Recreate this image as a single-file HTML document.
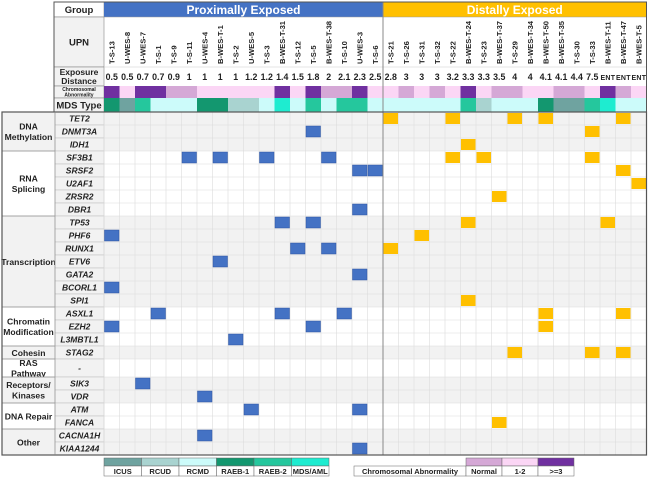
<!DOCTYPE html>
<html><head><meta charset="utf-8"><style>
html,body{margin:0;padding:0;background:#fff;width:650px;height:477px;overflow:hidden}
svg{display:block;font-family:"Liberation Sans",Arial,sans-serif}
</style></head><body>
<svg id="c" width="650" height="477" viewBox="0 0 650 477"></svg>
<script>
const upns=["T-S-13","U-WES-8","U-WES-7","T-S-1","T-S-9","T-S-11","U-WES-4","B-WES-T-1","T-S-2","U-WES-5","T-S-3","B-WES-T-31","T-S-12","T-S-5","B-WES-T-38","T-S-10","U-WES-3","T-S-6","T-S-21","T-S-26","T-S-31","T-S-32","T-S-22","B-WES-T-24","T-S-23","B-WES-T-37","T-S-29","B-WES-T-34","B-WES-T-50","B-WES-T-35","T-S-30","T-S-33","B-WES-T-11","B-WES-T-47","B-WES-T-5"];
const exposure=["0.5","0.5","0.7","0.7","0.9","1","1","1","1","1.2","1.2","1.4","1.5","1.8","2","2.1","2.3","2.5","2.8","3","3","3","3.2","3.3","3.3","3.5","4","4","4.1","4.1","4.4","7.5","ENT","ENT","ENT"];
const chrom=[2,1,2,2,0,0,1,1,1,1,1,2,1,2,0,0,2,1,1,0,1,0,1,2,1,0,0,1,1,0,0,1,2,0,1];
const mds=[3,0,4,2,2,2,3,3,1,1,2,5,2,4,2,4,4,2,2,2,2,2,2,4,1,2,2,2,3,0,0,4,5,2,2];
const proximalCount=18;
const genes=["TET2","DNMT3A","IDH1","SF3B1","SRSF2","U2AF1","ZRSR2","DBR1","TP53","PHF6","RUNX1","ETV6","GATA2","BCORL1","SPI1","ASXL1","EZH2","L3MBTL1","STAG2","-","SIK3","VDR","ATM","FANCA","CACNA1H","KIAA1244"];
const groupNames=[["DNA","Methylation"],["RNA","Splicing"],["Transcription"],["Chromatin","Modification"],["Cohesin"],["RAS","Pathway"],["Receptors/","Kinases"],["DNA Repair"],["Other"]];
const groupSizes=[3,5,7,3,1,1,2,2,2];
const mutations=[[0,18],[0,22],[0,26],[0,28],[0,33],[1,13],[1,31],[2,23],[3,5],[3,7],[3,10],[3,14],[3,22],[3,24],[3,31],[4,16],[4,17],[4,33],[5,34],[6,25],[7,16],[8,11],[8,13],[8,23],[8,32],[9,0],[9,20],[10,12],[10,14],[10,18],[11,7],[12,16],[13,0],[14,23],[15,3],[15,11],[15,15],[15,28],[15,33],[16,0],[16,13],[16,28],[17,8],[18,26],[18,31],[18,33],[20,2],[21,6],[22,9],[22,16],[23,25],[24,6],[25,16]];
const mdsLabels=["ICUS","RCUD","RCMD","RAEB-1","RAEB-2","MDS/AML"];
const chromLabels=["Normal","1-2",">=3"];

const mdsColors=["#6fa3a0","#a9d3d0","#ccfbfa","#13976f","#25c79d","#1eecd0"];
const chromColors=["#d5a8d6","#fbd6f5","#7030a0"];
const S=document.getElementById('c'),NS="http://www.w3.org/2000/svg";
function el(t,a,txt){const e=document.createElementNS(NS,t);for(const k in a)e.setAttribute(k,a[k]);if(txt!==undefined)e.textContent=txt;S.appendChild(e);return e;}
const X0=104,CW=15.5,Y0=112,RH=13,RAS=18;
const colX=i=>X0+i*CW;
const rowY=[];let yy=Y0;for(let i=0;i<genes.length;i++){rowY.push(yy);yy+=genes[i]==="-"?RAS:RH;}rowY.push(yy);
const xEnd=colX(upns.length),yEnd=yy;
let gi=0;
for(let g=0;g<groupSizes.length;g++){
  const y1=rowY[gi],y2=rowY[gi+groupSizes[g]];const fill=g%2===0?"#f2f2f2":"#ffffff";
  let r=el('rect',{x:2,y:y1,width:xEnd-2,height:y2-y1,fill:fill});
  
  el('line',{x1:2,x2:104,y1:y1,y2:y1,stroke:"#888","stroke-width":0.8});
  const nm=groupNames[g],cy=(y1+y2)/2;
  nm.forEach((s,k)=>{let t=el('text',{x:28.5,y:cy+3.3+(k-(nm.length-1)/2)*10.5,"text-anchor":"middle","font-size":8.6,"font-weight":"bold",fill:"#222"},s);
    });
  gi+=groupSizes[g];
}
genes.forEach((g,i)=>{
  el('rect',{x:55,y:rowY[i],width:49,height:rowY[i+1]-rowY[i],fill:"#f2f2f2",stroke:"#bbb","stroke-width":0.5});
  let t=el('text',{x:79.5,y:(rowY[i]+rowY[i+1])/2+3.1,"text-anchor":"middle","font-size":8.5,"font-weight":"bold","font-style":"italic",fill:"#222"},g);
  
});
for(let i=0;i<=upns.length;i++)el('line',{x1:colX(i),x2:colX(i),y1:Y0,y2:yEnd,stroke:"#dcdcdc","stroke-width":0.6});
for(let i=0;i<=genes.length;i++)el('line',{x1:X0,x2:xEnd,y1:rowY[i],y2:rowY[i],stroke:"#dcdcdc","stroke-width":0.6});
const hdr=[["Group",2,17],["UPN",17,67],["Exposure|Distance",67,86],["Chromosomal|Abnormality",86,98],["MDS Type",98,112]];
hdr.forEach((h,k)=>{
  el('rect',{x:54,y:h[1],width:50,height:h[2]-h[1],fill:k===0?"#fff":"#f2f2f2",stroke:"#888","stroke-width":0.6});
  const p=h[0].split('|');const fs=k===3?5:(k===2?8.5:9.5);
  p.forEach((s,j)=>{let t=el('text',{x:79,y:(h[1]+h[2])/2+fs*0.36+(j-(p.length-1)/2)*(fs+0.5),"text-anchor":"middle","font-size":fs,"font-weight":"bold",fill:"#222"},s);
    });
});
let pb=el('rect',{x:X0,y:2,width:proximalCount*CW,height:15,fill:"#4472c4"});

let db=el('rect',{x:colX(proximalCount),y:2,width:(upns.length-proximalCount)*CW,height:15,fill:"#ffc000"});

el('text',{x:X0+proximalCount*CW/2,y:14,"text-anchor":"middle","font-size":12,"font-weight":"bold",fill:"#fff"},"Proximally Exposed");
el('text',{x:colX(proximalCount)+(upns.length-proximalCount)*CW/2,y:14,"text-anchor":"middle","font-size":12,"font-weight":"bold",fill:"#fff"},"Distally Exposed");
upns.forEach((u,i)=>{
  const cx=colX(i)+CW/2;
  let t=el('text',{x:0,y:0,transform:`translate(${cx+2.8},64) rotate(-90)`,"font-size":7.6,"font-weight":"bold",fill:"#222"},u);
  
  const ent=exposure[i]==="ENT";
  let e=el('text',{x:cx,y:80,"text-anchor":"middle","font-size":ent?7:8.8,"font-weight":"bold",fill:"#222"},exposure[i]);
  if(ent)e.setAttribute('textLength',14.5);
  
  let c=el('rect',{x:colX(i),y:86,width:CW,height:12,fill:chromColors[chrom[i]]});
  
  let m=el('rect',{x:colX(i),y:98,width:CW,height:14,fill:mdsColors[mds[i]]});
  
});
el('line',{x1:X0,x2:xEnd,y1:17,y2:17,stroke:"#999","stroke-width":0.6});
el('line',{x1:X0,x2:xEnd,y1:67,y2:67,stroke:"#ccc","stroke-width":0.6});
mutations.forEach(m=>{
  const g=m[0],c=m[1];
  let r=el('rect',{x:colX(c)+0.5,y:rowY[g]+1,width:CW-1,height:rowY[g+1]-rowY[g]-2,fill:c<proximalCount?"#4472c4":"#ffc000",stroke:c<proximalCount?"#2f55a0":"none","stroke-width":0.5});
  
});
el('line',{x1:colX(proximalCount),x2:colX(proximalCount),y1:2,y2:yEnd,stroke:"#888","stroke-width":1});
el('rect',{x:2,y:Y0,width:xEnd-2,height:yEnd-Y0,fill:"none",stroke:"#555","stroke-width":1.2});
el('rect',{x:54,y:2,width:xEnd-54,height:Y0-2,fill:"none",stroke:"#555","stroke-width":1});
el('line',{x1:55,x2:55,y1:Y0,y2:yEnd,stroke:"#888","stroke-width":0.6});
const lw=(329-104)/6;
mdsLabels.forEach((l,i)=>{
  let r=el('rect',{x:104+i*lw,y:458,width:lw,height:8,fill:mdsColors[i],stroke:"#666","stroke-width":0.5});
  
  el('rect',{x:104+i*lw,y:466,width:lw,height:10,fill:"#fff",stroke:"#666","stroke-width":0.5});
  let t=el('text',{x:104+i*lw+lw/2,y:474,"text-anchor":"middle","font-size":7.5,"font-weight":"bold",fill:"#222"},l);
  
});
el('rect',{x:354,y:466,width:112,height:10,fill:"#fff",stroke:"#666","stroke-width":0.5});
el('text',{x:410,y:474,"text-anchor":"middle","font-size":7.5,"font-weight":"bold",fill:"#222"},"Chromosomal Abnormality");
chromLabels.forEach((l,i)=>{
  let r=el('rect',{x:466+i*36,y:458,width:36,height:8,fill:chromColors[i],stroke:"#666","stroke-width":0.5});
  
  el('rect',{x:466+i*36,y:466,width:36,height:10,fill:"#fff",stroke:"#666","stroke-width":0.5});
  let t=el('text',{x:484+i*36,y:474,"text-anchor":"middle","font-size":7.5,"font-weight":"bold",fill:"#222"},l);
  
});
</script>
</body></html>
